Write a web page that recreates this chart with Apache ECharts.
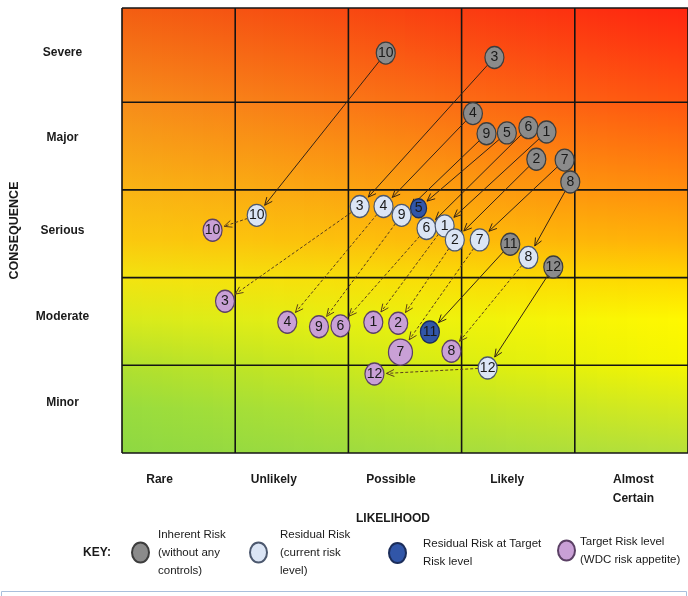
<!DOCTYPE html>
<html>
<head>
<meta charset="utf-8">
<script src="https://cdn.jsdelivr.net/npm/echarts@6/dist/echarts.min.js"></script>
<style>
  html, body { margin: 0; padding: 0; background: #ffffff; }
  #chart { width: 688px; height: 596px; }
</style>
</head>
<body>
<div id="chart"></div>
<script>
// Axis categories
const likelihoodLabels = ['Rare', 'Unlikely', 'Possible', 'Likely', 'Almost\nCertain'];
const consequenceLabels = ['Minor', 'Moderate', 'Serious', 'Major', 'Severe']; // bottom to top

// Risk positions: [risk number, likelihood position, consequence position]
const inherentRisk = [
  [10, 2.33, 4.56], [3, 3.29, 4.51], [4, 3.10, 3.87], [9, 3.22, 3.64],
  [5, 3.40, 3.65], [6, 3.59, 3.71], [1, 3.75, 3.66], [2, 3.66, 3.35],
  [7, 3.91, 3.34], [8, 3.96, 3.09], [11, 3.43, 2.38], [12, 3.81, 2.12]
];
const residualRisk = [
  [10, 1.19, 2.71], [3, 2.10, 2.81], [4, 2.31, 2.81], [9, 2.47, 2.71],
  [6, 2.69, 2.56], [1, 2.85, 2.59], [2, 2.94, 2.43], [7, 3.16, 2.43],
  [8, 3.59, 2.23], [12, 3.23, 0.97]
];
const residualAtTarget = [
  [5, 2.62, 2.79], [11, 2.72, 1.38]
];
const targetRisk = [
  [10, 0.80, 2.54], [3, 0.91, 1.73], [4, 1.46, 1.49], [9, 1.74, 1.44],
  [6, 1.93, 1.45], [1, 2.22, 1.49], [2, 2.44, 1.48], [7, 2.46, 1.15],
  [8, 2.91, 1.16], [12, 2.23, 0.90]
];

// ---- styling ----
const FONT = '"Liberation Sans", Arial, sans-serif';
const TEXT = '#1a1a1a';
const ELLIPSE = 'path://M0,50A50,50 0 1,1 100,50A50,50 0 1,1 0,50Z';
const ELLIPSE_KEY = 'path://M0,10A8.5,10 0 1,1 17,10A8.5,10 0 1,1 0,10Z';
const Y_MAX = 5.074; // top band is a little taller than the others

const KINDS = ['Inherent Risk', 'Residual Risk', 'Residual Risk at Target', 'Target Risk level'];
const kindStyle = [
  { fill: '#8b8b8b', border: '#3d3d3d' },
  { fill: '#dbe5f5', border: '#4c586e' },
  { fill: '#3156a8', border: '#1b2d5a' },
  { fill: '#c9a0d6', border: '#5b4065' }
];
const legendText = {
  'Inherent Risk': 'Inherent Risk\n(without any\ncontrols)',
  'Residual Risk': 'Residual Risk\n(current risk\nlevel)',
  'Residual Risk at Target': 'Residual Risk at Target\nRisk level',
  'Target Risk level': 'Target Risk level\n(WDC risk appetite)'
};
function markerSize(kind, id) {
  if (kind === 3 && id === 7) return [24, 26];
  if (kind === 2 && id === 5) return [16, 19];
  return [19, 22];
}

// background colour ramps (top -> bottom) at the left and right edges of the matrix
const rampStops = [0, 0.21, 0.41, 0.52, 0.61, 0.70, 0.80, 0.90, 1];
const rampLeft  = ['#f35e12', '#f68c1a', '#f9b414', '#fbc80e', '#f2e410', '#d8ea1c', '#b2e02e', '#98dc3e', '#8ed842'];
const rampRight = ['#ff2410', '#ff5410', '#ff8e0c', '#ffb008', '#ffd800', '#fff800', '#f6f600', '#d6ea1e', '#b6e03a'];
function hexRgb(h) { return [1, 3, 5].map(i => parseInt(h.substr(i, 2), 16)); }
function mix(a, b, t) {
  const p = hexRgb(a), q = hexRgb(b);
  return 'rgb(' + p.map((v, i) => Math.round(v + (q[i] - v) * t)).join(',') + ')';
}

// connections: inherent -> residual (solid), residual -> target (dashed)
function byId(rows) { const m = {}; rows.forEach(r => { m[r[0]] = r; }); return m; }
const links = [];
(function () {
  const res = byId(residualRisk), atT = byId(residualAtTarget), tgt = byId(targetRisk);
  inherentRisk.forEach(r => {
    const to = res[r[0]] ? [res[r[0]], 1] : (atT[r[0]] ? [atT[r[0]], 2] : null);
    if (to) links.push([r[1], r[2], to[0][1], to[0][2], 0, 0, r[0], to[1], r[0]]);
  });
  residualRisk.forEach(r => {
    const t = tgt[r[0]];
    if (t) links.push([r[1], r[2], t[1], t[2], 1, 1, r[0], 3, r[0]]);
  });
})();

function radiusAlong(size, ux, uy) {
  const a = size[0] / 2, b = size[1] / 2;
  return a * b / Math.sqrt((b * ux) * (b * ux) + (a * uy) * (a * uy));
}

function renderBackground(params, api) {
  const cs = params.coordSys;
  const children = [];
  const n = 56, w = cs.width / n;
  for (let i = 0; i < n; i++) {
    const t = (i + 0.5) / n;
    children.push({
      type: 'rect',
      shape: { x: cs.x + i * w, y: cs.y, width: w + 1, height: cs.height },
      style: {
        fill: new echarts.graphic.LinearGradient(0, 0, 0, 1,
          rampStops.map((o, k) => ({ offset: o, color: mix(rampLeft[k], rampRight[k], t) })))
      }
    });
  }
  const line = { stroke: '#141414', lineWidth: 1.6 };
  for (let k = 0; k <= 5; k++) {
    const px = api.coord([k, 0])[0];
    children.push({ type: 'line', shape: { x1: px, y1: cs.y, x2: px, y2: cs.y + cs.height }, style: line });
  }
  for (let k = 0; k <= 4; k++) {
    const py = api.coord([0, k])[1];
    children.push({ type: 'line', shape: { x1: cs.x, y1: py, x2: cs.x + cs.width, y2: py }, style: line });
  }
  children.push({ type: 'line', shape: { x1: cs.x, y1: cs.y, x2: cs.x + cs.width, y2: cs.y }, style: line });
  return { type: 'group', children };
}

function renderArrow(params, api) {
  const p0 = api.coord([api.value(0), api.value(1)]);
  const p1 = api.coord([api.value(2), api.value(3)]);
  const dashed = api.value(4) === 1;
  const dx = p1[0] - p0[0], dy = p1[1] - p0[1];
  const len = Math.sqrt(dx * dx + dy * dy);
  const ux = dx / len, uy = dy / len;
  const r0 = radiusAlong(markerSize(api.value(5), api.value(6)), ux, uy);
  const r1 = radiusAlong(markerSize(api.value(7), api.value(8)), ux, uy) + 2.5;
  const s = [p0[0] + ux * r0, p0[1] + uy * r0];
  const e = [p1[0] - ux * r1, p1[1] - uy * r1];
  const head = 8.5, ang = 0.42;
  const wing = a => [
    e[0] - head * (ux * Math.cos(a) - uy * Math.sin(a)),
    e[1] - head * (uy * Math.cos(a) + ux * Math.sin(a))
  ];
  const stroke = dashed ? '#5a3f1c' : '#352416';
  return {
    type: 'group',
    children: [
      { type: 'line', shape: { x1: s[0], y1: s[1], x2: e[0], y2: e[1] },
        style: { stroke, lineWidth: 1, lineDash: dashed ? [3, 2] : null } },
      { type: 'polyline', shape: { points: [wing(ang), e, wing(-ang)] },
        style: { stroke, lineWidth: 1, fill: null } }
    ]
  };
}

function circleSeries(kind, rows) {
  return {
    type: 'scatter',
    name: KINDS[kind],
    z: 3,
    silent: true,
    symbol: ELLIPSE,
    symbolKeepAspect: false,
    symbolSize: v => markerSize(kind, v[2]),
    data: rows.map(r => [r[1], r[2], r[0]]),
    itemStyle: { color: kindStyle[kind].fill, borderColor: kindStyle[kind].border, borderWidth: 1.3, opacity: 1 },
    label: {
      show: true, position: 'inside', formatter: p => String(p.value[2]),
      fontFamily: FONT, fontSize: 14, color: TEXT
    },
    emphasis: { disabled: true }
  };
}

const xShift = [-19, -18, -14, -11, 2];
const yShift = [-6, -3, 0, -4, 0];
const xRich = {}, yRich = {};
xShift.forEach((s, i) => {
  xRich['x' + i] = { lineHeight: 19, padding: s < 0 ? [0, -2 * s, 0, 0] : [0, 0, 0, 2 * s] };
});
yShift.forEach((s, i) => {
  yRich['y' + i] = { lineHeight: 16, padding: [0, 0, -2 * s, 0] };
});

function legendFor(kind, left, top, pad) {
  return {
    data: [{ name: KINDS[kind], icon: ELLIPSE_KEY }],
    left, top, padding: 0, orient: 'horizontal',
    itemWidth: 17, itemHeight: 20, selectedMode: false,
    formatter: n => legendText[n],
    textStyle: { fontFamily: FONT, fontSize: 11.5, lineHeight: 18, color: TEXT, padding: pad }
  };
}

const chart = echarts.init(document.getElementById('chart'), null, { renderer: 'canvas' });
chart.setOption({
  animation: false,
  backgroundColor: '#ffffff',
  grid: { left: 122, right: 0, top: 8, bottom: 143, containLabel: false, outerBoundsMode: 'none' },
  xAxis: [
    { type: 'value', min: 0, max: 5, interval: 1, show: false },
    {
      type: 'category', data: likelihoodLabels, position: 'bottom', boundaryGap: true,
      axisLine: { show: false }, axisTick: { show: false }, splitLine: { show: false },
      axisLabel: {
        margin: 17, fontFamily: FONT, fontSize: 12, fontWeight: 'bold', color: TEXT, lineHeight: 19,
        formatter: (v, i) => v.split('\n').map(s => '{x' + i + '|' + s + '}').join('\n'),
        rich: xRich
      },
      name: 'LIKELIHOOD', nameLocation: 'middle', nameGap: 58,
      nameTextStyle: { fontFamily: FONT, fontSize: 12, fontWeight: 'bold', color: TEXT, padding: [0, 24, 0, 0] }
    }
  ],
  yAxis: [
    { type: 'value', min: 0, max: Y_MAX, show: false },
    {
      type: 'category', data: consequenceLabels, position: 'left', boundaryGap: true,
      axisLine: { show: false }, axisTick: { show: false }, splitLine: { show: false },
      axisLabel: {
        margin: 59.5, align: 'center', fontFamily: FONT, fontSize: 12, fontWeight: 'bold', color: TEXT,
        formatter: (v, i) => '{y' + i + '|' + v + '}',
        rich: yRich
      },
      name: 'CONSEQUENCE', nameLocation: 'middle', nameGap: 101,
      nameTextStyle: { fontFamily: FONT, fontSize: 12.5, fontWeight: 'bold', color: TEXT }
    }
  ],
  legend: [
    legendFor(0, 131, 511, [29, 0, 0, 4]),
    legendFor(1, 249, 511, [29, 0, 0, 8]),
    legendFor(2, 388, 535, [0, 0, 0, 12]),
    legendFor(3, 557, 523, [19, 0, 0, 0])
  ],
  graphic: [
    { type: 'text', x: 97, y: 553,
      style: { text: 'KEY:', fontFamily: FONT, fontSize: 12, fontWeight: 'bold', fill: TEXT, align: 'center', verticalAlign: 'middle' } },
    { type: 'rect', shape: { x: 1.5, y: 591.5, width: 685, height: 20 },
      style: { fill: 'none', stroke: '#a9bfdc', lineWidth: 1 } }
  ],
  series: [
    {
      type: 'custom', name: 'matrix', coordinateSystem: 'cartesian2d', xAxisIndex: 0, yAxisIndex: 0,
      z: -10, silent: true, clip: false, data: [[0, 0]], renderItem: renderBackground
    },
    {
      type: 'custom', name: 'movement', coordinateSystem: 'cartesian2d', xAxisIndex: 0, yAxisIndex: 0,
      z: 2, silent: true, clip: false, data: links, encode: { x: [0, 2], y: [1, 3] },
      renderItem: renderArrow
    },
    Object.assign(circleSeries(0, inherentRisk), { xAxisIndex: 0, yAxisIndex: 0 }),
    Object.assign(circleSeries(2, residualAtTarget), { xAxisIndex: 0, yAxisIndex: 0 }),
    Object.assign(circleSeries(1, residualRisk), { xAxisIndex: 0, yAxisIndex: 0 }),
    Object.assign(circleSeries(3, targetRisk), { xAxisIndex: 0, yAxisIndex: 0 })
  ]
});
</script>
</body>
</html>
